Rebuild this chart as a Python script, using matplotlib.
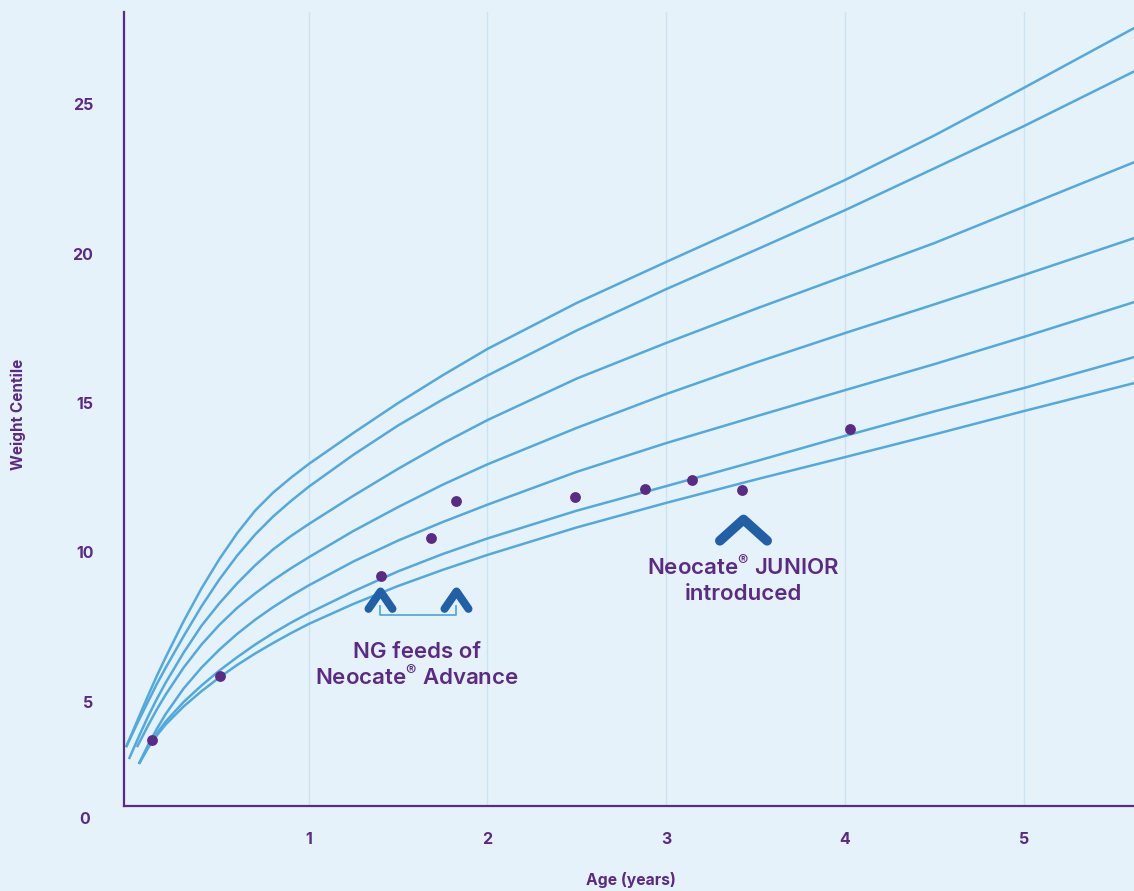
import matplotlib
matplotlib.use("Agg")
import matplotlib.pyplot as plt
from matplotlib.path import Path
from matplotlib.markers import MarkerStyle

# ---------------- data ----------------
ages = [0.05, 0.1, 0.15, 0.2, 0.3, 0.4, 0.5, 0.6, 0.7, 0.8, 0.9, 1.0,
        1.25, 1.5, 1.75, 2.0, 2.5, 3.0, 3.5, 4.0, 4.5, 5.0, 5.62]

start_age = [-0.022, -0.022, -0.006, 0.039, 0.05, 0.05, 0.05]
start_wt = [3.49, 3.49, 3.09, 3.49, 2.93, 2.93, 2.93]

centile_1 = [4.5, 5.2, 5.87, 6.5, 7.7, 8.8, 9.78, 10.65, 11.4, 12.0, 12.5, 12.96,
             14.0, 15.0, 15.93, 16.81, 18.35, 19.72, 21.07, 22.46, 23.95, 25.54, 27.55]
centile_2 = [4.4, 5.0, 5.6, 6.15, 7.2, 8.2, 9.1, 9.9, 10.6, 11.2, 11.72, 12.2,
             13.27, 14.25, 15.12, 15.92, 17.43, 18.81, 20.12, 21.45, 22.85, 24.26, 26.10]
centile_3 = [3.85, 4.5, 5.1, 5.65, 6.65, 7.55, 8.3, 8.97, 9.57, 10.1, 10.55, 10.95,
             11.9, 12.8, 13.65, 14.43, 15.82, 17.01, 18.15, 19.25, 20.35, 21.56, 23.06]
centile_4 = [None, 4.2, 4.75, 5.25, 6.15, 6.92, 7.58, 8.15, 8.63, 9.07, 9.47, 9.84,
             10.72, 11.52, 12.27, 12.95, 14.17, 15.30, 16.35, 17.34, 18.3, 19.28, 20.52]
centile_5 = [None, 3.55, 4.1, 4.6, 5.45, 6.15, 6.75, 7.28, 7.75, 8.17, 8.55, 8.9,
             9.7, 10.4, 11.02, 11.6, 12.7, 13.66, 14.55, 15.43, 16.3, 17.21, 18.38]
centile_6 = [None, 3.5, 3.95, 4.35, 5.0, 5.55, 6.05, 6.5, 6.92, 7.3, 7.65, 7.97,
             8.7, 9.37, 9.95, 10.47, 11.4, 12.22, 13.05, 13.9, 14.72, 15.5, 16.54]
centile_7 = [None, 3.45, 3.88, 4.25, 4.85, 5.36, 5.82, 6.24, 6.62, 6.97, 7.3, 7.61,
             8.28, 8.88, 9.42, 9.92, 10.84, 11.66, 12.44, 13.19, 13.95, 14.73, 15.67]
centiles = [centile_1, centile_2, centile_3, centile_4, centile_5, centile_6, centile_7]

patient_age = [0.123, 0.503, 1.404, 1.684, 1.824, 2.49, 2.88, 3.144, 3.424, 4.028]
patient_wt = [3.73, 5.87, 9.21, 10.48, 11.72, 11.86, 12.12, 12.42, 12.09, 14.13]

x_ticks = [1, 2, 3, 4, 5]
y_ticks = [5, 10, 15, 20, 25]

ng_feed_ages = [1.397, 1.825]
junior_age = 3.432
ng_label = "NG feeds of\nNeocate$^{®}$ Advance"
junior_label = "Neocate$^{®}$ JUNIOR\nintroduced"

# ---------------- style ----------------
BG = "#e5f2fa"
PURPLE = "#5b2a84"
LINE = "#52a9de"
DARKBLUE = "#2160a6"
GRID = "#cde2f2"
FONT = ["Inter", "DejaVu Sans"]
plt.rcParams["font.family"] = FONT
plt.rcParams["mathtext.default"] = "regular"

W, H = 1134, 891
fig = plt.figure(figsize=(W / 100, H / 100), dpi=100, facecolor=BG)
ax = fig.add_axes([124 / W, 1 - 806 / H, (W - 124) / W, (806 - 12) / H])
ax.set_facecolor(BG)

ax.set_xlim(-0.0336, 5.617)
ax.set_ylim(1.52, 28.08)

for spine in ("top", "right"):
    ax.spines[spine].set_visible(False)
for spine in ("left", "bottom"):
    ax.spines[spine].set_color(PURPLE)
    ax.spines[spine].set_linewidth(1.6)

ax.set_xticks(x_ticks)
ax.set_yticks(y_ticks)
ax.tick_params(axis="x", length=0, pad=19, labelsize=11.5, labelcolor=PURPLE)
ax.tick_params(axis="y", length=0, pad=22, labelsize=11.5, labelcolor=PURPLE)
for lab in ax.get_xticklabels() + ax.get_yticklabels():
    lab.set_fontweight("bold")
ax.grid(axis="x", color=GRID, linewidth=1.0)
ax.grid(axis="y", visible=False)
ax.set_axisbelow(True)

fig.text(90 / W, 1 - 819 / H, "0", ha="right", va="center", color=PURPLE,
         fontsize=11.5, fontweight="bold")

# centile curves
for sx, sy, vals in zip(start_age, start_wt, centiles):
    xs = [sx] + [a for a, v in zip(ages, vals) if v is not None]
    ys = [sy] + [v for v in vals if v is not None]
    ax.plot(xs, ys, color=LINE, lw=1.8, solid_capstyle="butt",
            solid_joinstyle="round", clip_on=False, zorder=2)

# patient points
ax.plot(patient_age, patient_wt, "o", color=PURPLE, ms=7.8, mec="none", zorder=4)

# chevrons
small_chev = Path([(-1.0, -1.45), (0, 0), (1.0, -1.45)],
                  [Path.MOVETO, Path.LINETO, Path.LINETO])
big_chev = Path([(-1.0, -0.9), (0, 0), (1.0, -0.9)],
                [Path.MOVETO, Path.LINETO, Path.LINETO])
ms_small = MarkerStyle(small_chev, fillstyle="none", capstyle="round", joinstyle="miter")
ms_big = MarkerStyle(big_chev, fillstyle="none", capstyle="round", joinstyle="miter")

ax.plot(ng_feed_ages, [8.72, 8.72], linestyle="none", marker=ms_small, ms=25,
        mew=5.8, mec=DARKBLUE, zorder=5)
ax.plot([junior_age], [11.12], linestyle="none", marker=ms_big, ms=34,
        mew=7.0, mec=DARKBLUE, zorder=5)

# bracket under NG feed chevrons
ax.plot([ng_feed_ages[0], ng_feed_ages[0], ng_feed_ages[1], ng_feed_ages[1]],
        [8.2, 7.9, 7.9, 8.2], color=LINE, lw=1.3, zorder=3)

ax.text(sum(ng_feed_ages) / 2 - 0.005, 6.22, ng_label, ha="center", va="center",
        color=PURPLE, fontsize=16, fontweight="semibold", linespacing=1.15)
ax.text(junior_age, 9.1, junior_label, ha="center", va="center",
        color=PURPLE, fontsize=16, fontweight="semibold", linespacing=1.3)

# axis titles
fig.text(18 / W, 1 - 414 / H, "Weight Centile", rotation=90, ha="center", va="center",
         color=PURPLE, fontsize=11, fontweight="bold")
fig.text(631 / W, 1 - 880 / H, "Age (years)", ha="center", va="center",
         color=PURPLE, fontsize=11.3, fontweight="bold")

fig.savefig("out.png", dpi=100, facecolor=BG)
